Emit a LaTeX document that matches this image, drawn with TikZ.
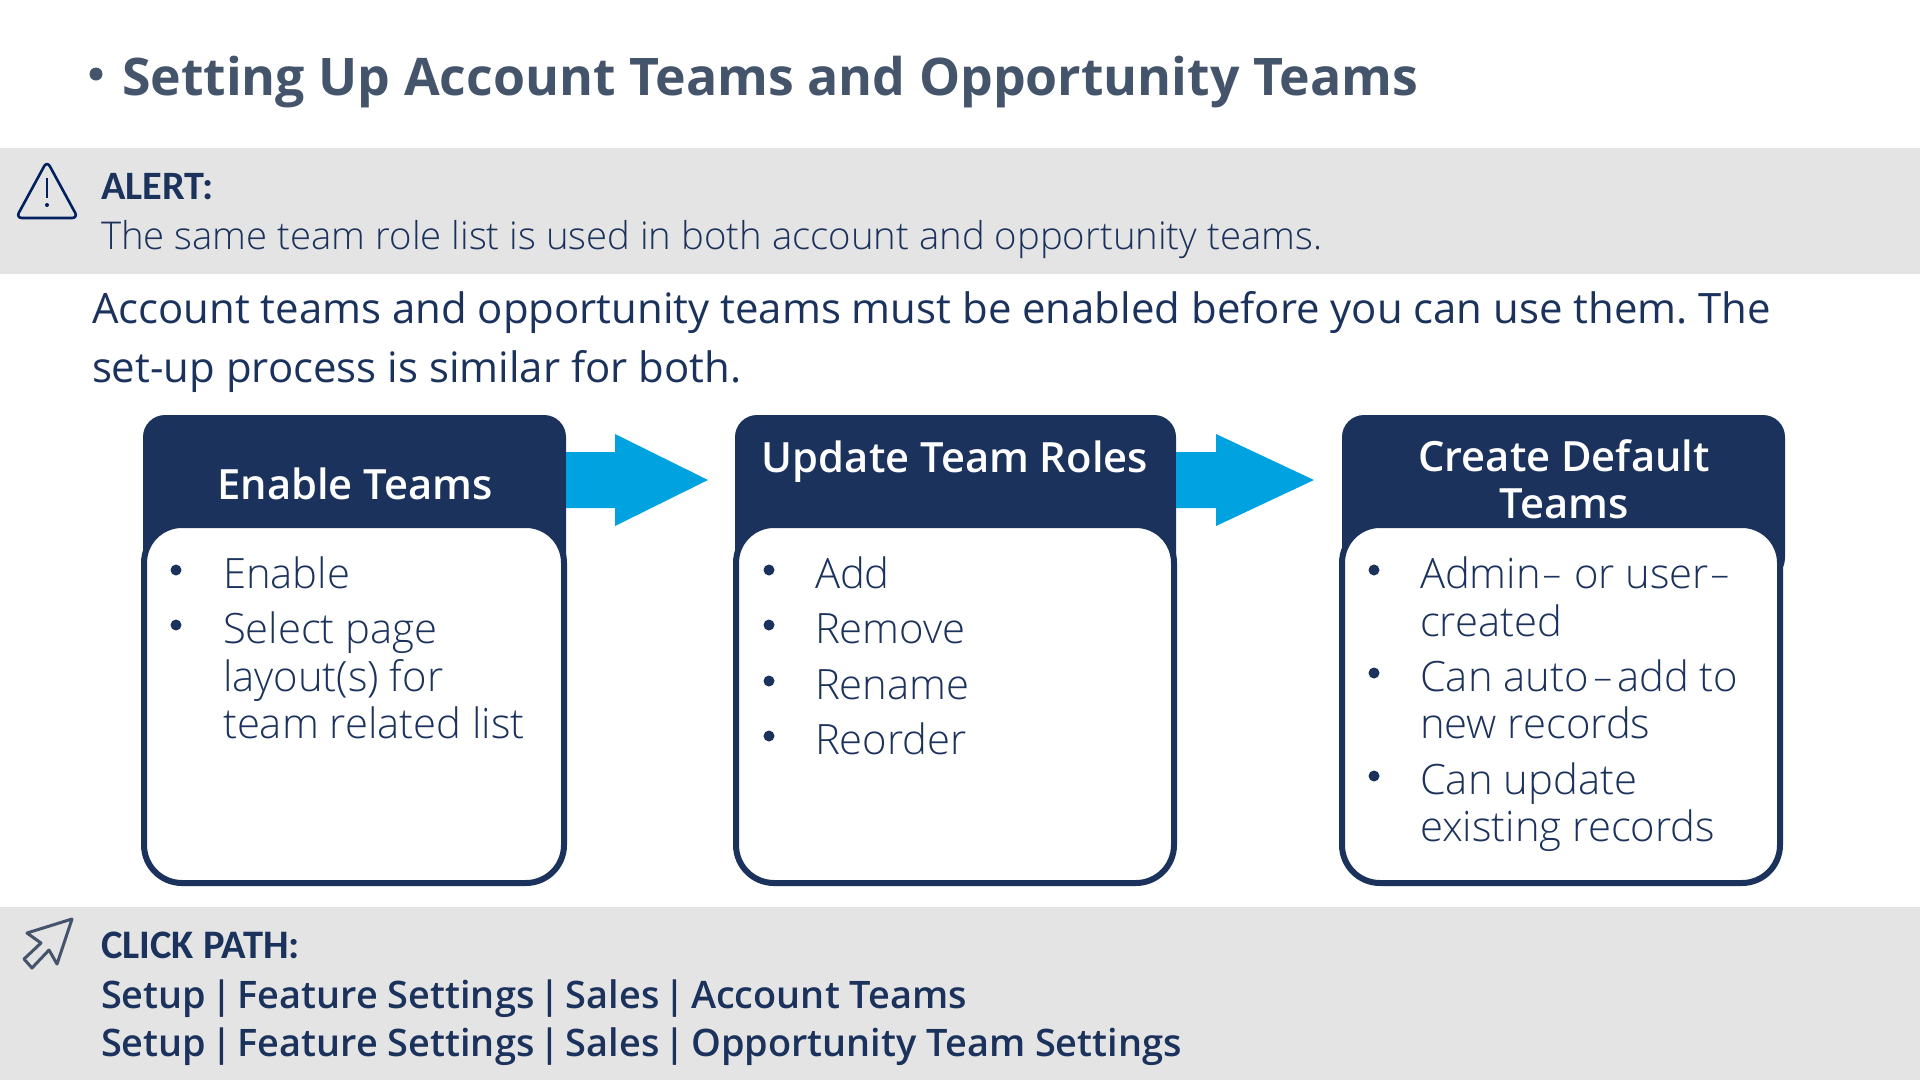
\documentclass[tikz,border=0pt]{standalone}
\usepackage{fontspec}
\setmainfont{Open Sans}
\newfontfamily\lightf{Open Sans Light}
\IfFontExistsTF{Open Sans SemiBold}{\newfontfamily\medf{Open Sans SemiBold}}{%
 \IfFontExistsTF{Open Sans Semibold}{\newfontfamily\medf{Open Sans Semibold}}{\newfontfamily\medf{Open Sans}}}
\newfontfamily\carl{Carlito}
\definecolor{navy}{HTML}{1B325C}
\definecolor{slate}{HTML}{44546A}
\definecolor{band}{HTML}{E4E4E4}
\definecolor{sky}{HTML}{00A3E0}
\definecolor{iconblue}{HTML}{002060}
\newcommand{\fs}[1]{\fontsize{#1}{#1}\selectfont}
\newcommand{\pp}{\kern-.12em|\kern-.12em\relax}
\newcommand{\hy}[1]{\kern#1em\relax\scalebox{1.6}[1]{-}\kern#1em\relax}
\frenchspacing
\tikzset{
 x=1pt,y=-1pt,
 txt/.style={anchor=base west,inner sep=0pt,outer sep=0pt,text=navy},
 ctr/.style={anchor=base,inner sep=0pt,outer sep=0pt,text=white,font=\medf\fs{41.7}},
 item/.style={txt,font=\lightf\fs{41.8}},
 pathline/.style={txt,font=\medf\fs{37.9}},
 dot/.style={circle,fill=navy,inner sep=0pt,minimum size=11pt},
 head/.style={fill=navy,rounded corners=22pt},
 bodybox/.style={draw=navy,line width=6pt,fill=white,rounded corners=38pt},
 flow/.style={fill=sky},
}
\begin{document}
\begin{tikzpicture}
\useasboundingbox (0,0) rectangle (1920,1080);
\fill[band] (0,148) rectangle (1920,274);
\fill[band] (0,907) rectangle (1920,1080);
% title
\node[dot,fill=slate,minimum size=13pt] (tb) at (96,74) {};
\node[txt,text=slate,font=\bfseries\fs{51.8}] (title) at (122,95) {Setting Up Account Teams and Opportunity Teams};
% alert
\draw[iconblue,line width=2.6pt,rounded corners=6pt,line join=round] (47,161) -- (78,218) -- (16,218) -- cycle;
\draw[iconblue,line width=2.6pt] (47,178) -- (47,198);
\fill[iconblue] (47,205) circle (2pt);
\node[txt,font=\carl\bfseries\fs{40.3}] (alert) at (101,199) {ALERT:};
\node[txt,font=\lightf\fs{38.3}] (alerttext) at (101,249) {The same team role list is used in both account and opportunity teams.};
% intro
\node[txt,font=\fs{41.9}] (intro1) at (92,323) {Account teams and opportunity teams must be enabled before you can use them. The};
\node[txt,font=\fs{41.9}] (intro2) at (92,382) {set-up process is similar for both.};
% boxes
\fill[head] (143,415) rectangle (566,580);
\draw[bodybox] (144,525) rectangle (564,883);
\fill[head] (735,415) rectangle (1176,580);
\draw[bodybox] (736,525) rectangle (1174,883);
\fill[head] (1342,415) rectangle (1785,580);
\draw[bodybox] (1342,525) rectangle (1780,883);
% arrows
\fill[flow] (566,452) -- (615,452) -- (615,434) -- (708,480) -- (615,526) -- (615,508) -- (566,508) -- cycle;
\fill[flow] (1176,452) -- (1216,452) -- (1216,434) -- (1314,480) -- (1216,526) -- (1216,508) -- (1176,508) -- cycle;
% headers
\node[ctr] (h1) at (355,499) {Enable Teams};
\node[ctr] (h2) at (955,472) {Update Team Roles};
\node[ctr] (h3a) at (1564,471) {Create Default};
\node[ctr] (h3b) at (1564,518) {Teams};
% list 1
\node[dot] (b11) at (176,570) {};
\node[item] (t11) at (223,588) {Enable};
\node[dot] (b12) at (176,625) {};
\node[item] (t12) at (223,643) {Select page};
\node[item] (t12b) at (223,691) {layout(s) for};
\node[item] (t12c) at (223,738) {team related list};
% list 2
\node[dot] (b21) at (769,570) {};
\node[item] (t21) at (815,588) {Add};
\node[dot] (b22) at (769,625) {};
\node[item] (t22) at (815,643) {Remove};
\node[dot] (b23) at (769,681) {};
\node[item] (t23) at (815,699) {Rename};
\node[dot] (b24) at (769,736) {};
\node[item] (t24) at (815,754) {Reorder};
% list 3
\node[dot] (b31) at (1374,570) {};
\node[item] (t31) at (1420,588) {Admin\hy{.01} or user\hy{.01}};
\node[item] (t31b) at (1420,636) {created};
\node[dot] (b32) at (1374,673) {};
\node[item] (t32) at (1420,691) {Can auto\hy{.08}add to};
\node[item] (t32b) at (1420,738) {new records};
\node[dot] (b33) at (1374,776) {};
\node[item] (t33) at (1420,794) {Can update};
\node[item] (t33b) at (1420,841) {existing records};
% click path
\draw[slate,line width=3pt,line join=round] (72,919) -- (27,933) -- (41,943) -- (24,959) -- (32,968) -- (49,950) -- (57,964) -- cycle;
\node[txt,font=\carl\bfseries\fs{40.5}] (cp) at (101,958) {CLICK PATH:};
\node[pathline] (cp1) at (101,1008) {Setup \pp{} Feature Settings \pp{} Sales \pp{} Account Teams};
\node[pathline] (cp2) at (101,1056) {Setup \pp{} Feature Settings \pp{} Sales \pp{} Opportunity Team Settings};
\end{tikzpicture}
\end{document}
